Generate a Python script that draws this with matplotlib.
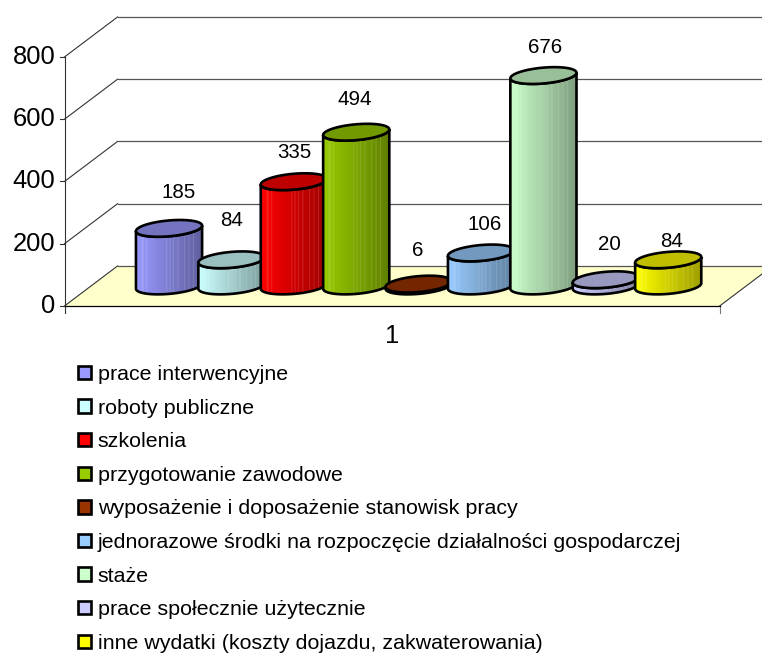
import numpy as np
import matplotlib
matplotlib.use('Agg')
import matplotlib.pyplot as plt
from matplotlib.patches import Patch, Polygon

plt.rcParams['font.family'] = ['Liberation Sans', 'DejaVu Sans']

# data
categories = ['prace interwencyjne', 'roboty publiczne', 'szkolenia', 'przygotowanie zawodowe',
              'wyposażenie i doposażenie stanowisk pracy',
              'jednorazowe środki na rozpoczęcie działalności gospodarczej',
              'staże', 'prace społecznie użytecznie',
              'inne wydatki (koszty dojazdu, zakwaterowania)']
values = [185, 84, 335, 494, 6, 106, 676, 20, 84]
colors = ['#9999FF', '#CCFFFF', '#FF0000', '#99CC00', '#993300', '#99CCFF', '#CCFFCC', '#CCCCFF', '#FFFF00']
yticks = [0, 200, 400, 600, 800]

# label nudges (category units, value units)
label_dx = [0.16, 0.0, 0.0, -0.02, -0.01, 0.05, 0.03, 0.06, 0.05]
label_dy = [115, 126, 93, 104, 107, 93, 91, 114, 60]

# layout of the fake 3d box
left, right = -1.25, 9.25
depth_x, depth_y = 0.85, 128.5
rx, kx, ky = 0.5, 0.176, 27

fig = plt.figure(figsize=(7.62, 6.53), dpi=100)
ax = fig.add_axes([0, 0, 1, 1])
ax.set_xlim(-2.284, 9.928)
ax.set_ylim(-1115, 983)
ax.axis('off')

# floor
ax.add_patch(Polygon([(left, 0), (left + depth_x, depth_y), (right + depth_x, depth_y), (right, 0)],
                     closed=True, facecolor='#FFFFCC', edgecolor='none', zorder=1))

# grid on the walls
for t in yticks:
    ax.plot([left, left + depth_x], [t, t + depth_y], color='#333333', lw=0.8, zorder=2)
    ax.plot([left + depth_x, right + depth_x], [t + depth_y, t + depth_y], color='#555555', lw=0.9, zorder=2)
    ax.plot([left - 0.08, left], [t, t], color='#333333', lw=0.8, zorder=2)
    ax.text(left - 0.15, t, str(t), ha='right', va='center', fontsize=18.4, color='black')
ax.plot([left, left], [0, 800], color='#333333', lw=0.8, zorder=2)
ax.plot([left, left], [0, -24], color='#333333', lw=0.8, zorder=2)
ax.plot([right, right], [0, -24], color='#777777', lw=0.8, zorder=2)
ax.plot([left, right], [0, 0], color='black', lw=0.9, zorder=2)
ax.plot([right, right + depth_x], [0, depth_y], color='#333333', lw=0.8, zorder=2)

ax.text(4, -95, '1', ha='center', va='center', fontsize=18.4, color='black')

# shading across a cylinder, pale stripes like the original banding
n_cols = 60
shade = np.linspace(1.0, 0.62, n_cols)
pale = np.zeros(n_cols)
for a, b in [(5, 7), (9, 10), (27, 28), (30, 31), (33, 34), (37, 38), (43, 44), (47, 48), (51, 52)]:
    pale[a:b] = 0.12

t0 = np.arctan2(kx, rx)
theta = np.linspace(t0 + np.pi, t0 + 2 * np.pi, 60)
theta_full = np.linspace(0, 2 * np.pi, 100)
half_w = np.hypot(rx, kx)


def ring(cx, cy, t):
    return np.column_stack([cx + rx * np.cos(t) + kx * np.sin(t), cy + ky * np.sin(t)])


z = 10
for i, (val, col) in enumerate(zip(values, colors)):
    cx = i + depth_x / 2
    base = depth_y / 2
    top = base + val
    rgb = np.array(matplotlib.colors.to_rgb(col))

    # body = front arc of the base, then straight up the far side
    low = ring(cx, base, theta)
    high = ring(cx, top, theta[::-1])
    body = Polygon(np.vstack([low, high]), closed=True, facecolor='none', edgecolor='black', lw=1.9, zorder=z + 1)
    ax.add_patch(body)

    strip = shade[:, None] * rgb
    strip = strip + pale[:, None] * (1 - strip)
    im = ax.imshow(strip[None, :, :], extent=[cx - half_w, cx + half_w, base - ky * 2, top + ky * 2],
                   aspect='auto', interpolation='bilinear', zorder=z)
    im.set_clip_path(body)

    ax.add_patch(Polygon(ring(cx, top, theta_full), closed=True, facecolor=rgb * 0.75,
                         edgecolor='black', lw=1.9, zorder=z + 2))
    ax.text(cx + label_dx[i], top + label_dy[i], str(val), ha='center', va='center',
            fontsize=14.8, color='black', zorder=40)
    z += 3

ax.set_xlim(-2.284, 9.928)
ax.set_ylim(-1115, 983)

# legend
handles = [Patch(facecolor=c, edgecolor='black', lw=1.9) for c in colors]
fig.legend(handles, categories, loc='upper left', bbox_to_anchor=(0.1025, 0.441), frameon=False,
           fontsize=15.4, labelspacing=0.683, handlelength=0.58, handleheight=0.58,
           handletextpad=0.33, borderpad=0, borderaxespad=0, labelcolor='black')

plt.savefig('out.png', dpi=100)
